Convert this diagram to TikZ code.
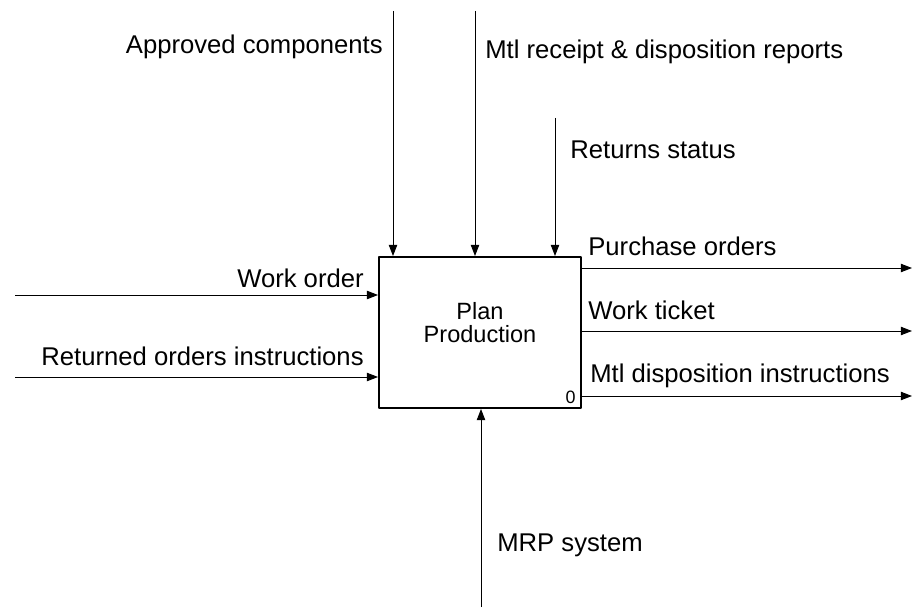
\documentclass[tikz,border=0pt]{standalone}
\usepackage{fontspec}
\setmainfont{Liberation Sans}
\usetikzlibrary{arrows.meta}
\begin{document}
\begin{tikzpicture}[x=0.02cm, y=-0.02cm, line join=round, >={Triangle[length=6.4pt,width=4.8pt]}]
	\tikzset{every node/.style={inner sep=0pt, font=\fontsize{14.6}{17}\selectfont},
		flow/.style={->, line width=0.55pt},
		box/.style={draw, line width=1.1pt, minimum width=4.04cm, minimum height=3.02cm}}
	\useasboundingbox (0,0) rectangle (913,611);
	\node[box] (P) at (480,332.5) {};
	\node[align=center, font=\fontsize{13.4}{13.1}\selectfont] (Pt) at (480,323) {Plan\\Production};
	\node[anchor=south east, font=\fontsize{10.2}{12}\selectfont] (Pn) at ([shift={(-6,-5)}]P.south east) {0};
	\coordinate (i1) at (15,295);
	\coordinate (i2) at (15,377);
	\coordinate (c1) at (393,11);
	\coordinate (c2) at (475,11);
	\coordinate (c3) at (555,118);
	\coordinate (o1) at (912,268);
	\coordinate (o2) at (912,331);
	\coordinate (o3) at (912,396);
	\coordinate (m1) at (481,607);
	\foreach \c in {c1,c2,c3}
		\draw[flow] (\c) -- (\c |- P.north);
	\foreach \i in {i1,i2}
		\draw[flow] (\i) -- (\i -| P.west);
	\foreach \o in {o1,o2,o3}
		\draw[flow] (\o -| P.east) -- (\o);
	\draw[flow] (m1) -- (m1 |- P.south);
	\node[anchor=east] (lc1) at (383,47) {Approved components};
	\node[anchor=west] (lc2) at (485,52) {Mtl receipt \& disposition reports};
	\node[anchor=west] (lc3) at (570,150) {Returns status};
	\node[anchor=west] (lo1) at (588,246) {Purchase orders};
	\node[anchor=west] (lo2) at (588,310) {Work ticket};
	\node[anchor=west] (lo3) at (590,376) {Mtl disposition instructions};
	\node[anchor=east] (li1) at (364,278) {Work order};
	\node[anchor=east] (li2) at (364,356) {Returned orders instructions};
	\node[anchor=west] (lm1) at (497,545) {MRP system};
\end{tikzpicture}
\end{document}
